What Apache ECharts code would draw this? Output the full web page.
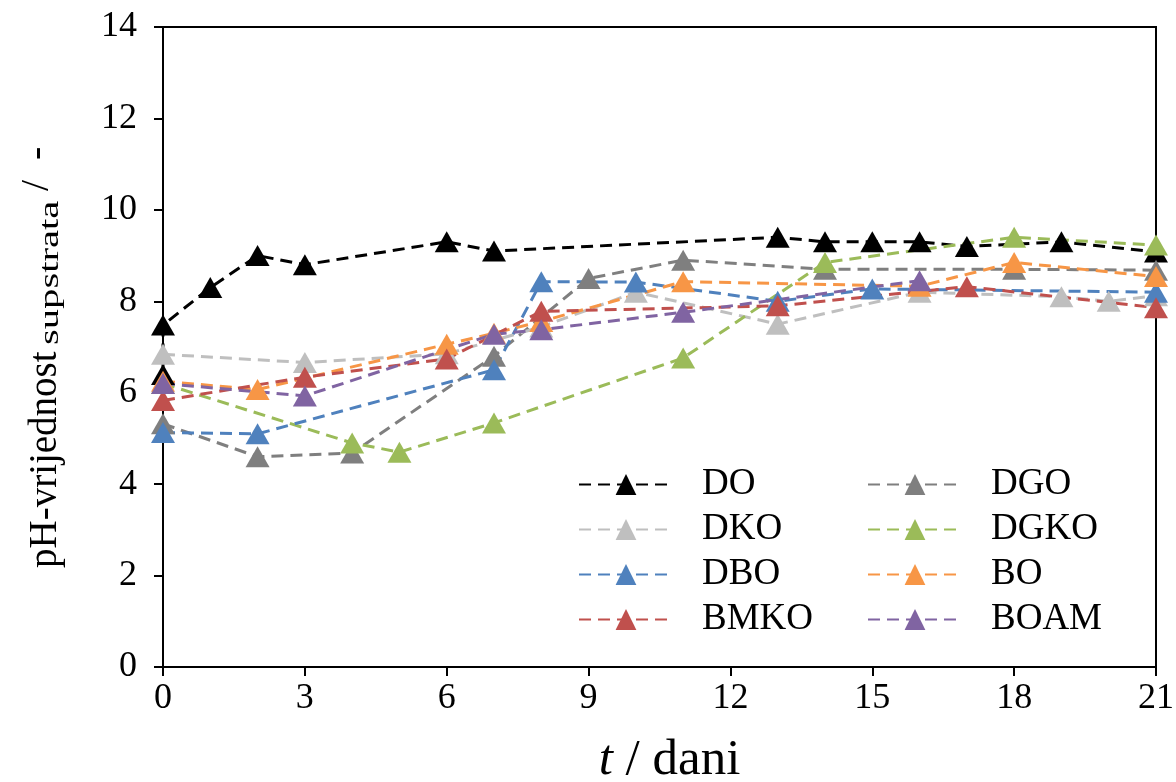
<!DOCTYPE html>
<html>
<head>
<meta charset="utf-8">
<title>pH-vrijednost supstrata</title>
<script src="https://cdn.jsdelivr.net/npm/echarts@6/dist/echarts.min.js"></script>
<style>
  html, body { margin: 0; padding: 0; background: #ffffff; }
  #chart { width: 1176px; height: 782px; }
</style>
</head>
<body>
<div id="chart"></div>
<script>
// Time (days) and substrate pH for each digestion trial
const doT    = [0, 0, 1, 2, 3, 6, 7, 13, 14, 15, 16, 17, 19, 21];
const doPH   = [6.4, 7.48, 8.3, 9.0, 8.8, 9.3, 9.1, 9.4, 9.3, 9.3, 9.3, 9.2, 9.3, 9.08];

const dgoT   = [0, 2, 4, 7, 9, 11, 14, 18, 21];
const dgoPH  = [5.32, 4.6, 4.68, 6.8, 8.5, 8.9, 8.7, 8.7, 8.68];

const dkoT   = [0, 3, 6, 8, 10, 13, 16, 19, 20, 21];
const dkoPH  = [6.84, 6.66, 6.85, 7.44, 8.2, 7.5, 8.2, 8.1, 8.0, 8.12];

const dgkoT  = [0, 4, 5, 7, 11, 14, 18, 21];
const dgkoPH = [6.2, 4.9, 4.7, 5.34, 6.76, 8.85, 9.4, 9.23];

const dboT   = [0, 2, 7, 8, 10, 13, 15, 21];
const dboPH  = [5.13, 5.1, 6.5, 8.43, 8.42, 8.0, 8.27, 8.2];

const boT    = [0, 2, 6, 7, 8, 11, 16, 18, 21];
const boPH   = [6.25, 6.07, 7.06, 7.3, 7.56, 8.43, 8.33, 8.85, 8.54];

const bmkoT  = [0, 3, 6, 8, 13, 17, 21];
const bmkoPH = [5.83, 6.34, 6.74, 7.78, 7.9, 8.32, 7.86];

const boamT  = [0, 3, 7, 8, 11, 16];
const boamPH = [6.2, 5.93, 7.28, 7.38, 7.76, 8.45];

// Axis ticks
const xTicks = [0, 3, 6, 9, 12, 15, 18, 21];
const yTicks = [0, 2, 4, 6, 8, 10, 12, 14];

// Legend columns
const legendLeft  = ['DO', 'DKO', 'DBO', 'BMKO'];
const legendRight = ['DGO', 'DGKO', 'BO', 'BOAM'];

// Series in drawing order (later ones sit on top)
const seriesDefs = [
  { name: 'DO',   t: doT,   ph: doPH,   color: '#000000' },
  { name: 'DGO',  t: dgoT,  ph: dgoPH,  color: '#7f7f7f' },
  { name: 'DKO',  t: dkoT,  ph: dkoPH,  color: '#bfbfbf' },
  { name: 'DGKO', t: dgkoT, ph: dgkoPH, color: '#9bbb59' },
  { name: 'DBO',  t: dboT,  ph: dboPH,  color: '#4f81bd' },
  { name: 'BO',   t: boT,   ph: boPH,   color: '#f79646' },
  { name: 'BMKO', t: bmkoT, ph: bmkoPH, color: '#c0504d' },
  { name: 'BOAM', t: boamT, ph: boamPH, color: '#8064a2' }
];

const serif = '"Liberation Serif", "Times New Roman", serif';

const series = seriesDefs.map(function (s) {
  return {
    name: s.name,
    type: 'line',
    data: s.t.map(function (t, i) { return [t, s.ph[i]]; }),
    symbol: 'triangle',
    symbolSize: [24, 21],
    showAllSymbol: true,
    color: s.color,
    itemStyle: { color: s.color, opacity: 1 },
    lineStyle: { color: s.color, width: 3, type: [12, 7] },
    emphasis: { disabled: true },
    animation: false,
    z: 2
  };
});

function legendColumn(left, names) {
  return {
    left: left, top: 461,
    orient: 'vertical',
    itemWidth: 94, itemHeight: 26, itemGap: 8,
    data: names,
    formatter: function (n) { return '{a|' + n + '}'; },
    textStyle: {
      rich: {
        a: { fontFamily: serif, fontSize: 37, color: '#000000', padding: [0, 0, 0, 24] }
      }
    },
    selectedMode: false
  };
}

// Rotated y-axis title: main text, subscript and unit
const yTitle = [
  { text: 'pH-vrijednost', x: 65, y: 568, size: 39, sx: 1 },
  { text: 'supstrata',     x: 65, y: 345, size: 28, sx: 1.45 },
  { text: '/  -',          x: 57, y: 191, size: 40, sx: 1 }
];

const chart = echarts.init(document.getElementById('chart'), null, { renderer: 'canvas' });

chart.setOption({
  backgroundColor: '#ffffff',
  animation: false,
  grid: {
    left: 163, right: 20, top: 27, bottom: 115,
    outerBoundsMode: 'none',
    containLabel: false,
    show: true, borderColor: '#000000', borderWidth: 2, backgroundColor: 'transparent'
  },
  legend: [legendColumn(573, legendLeft), legendColumn(862, legendRight)],
  graphic: yTitle.map(function (p) {
    return {
      type: 'text',
      x: p.x, y: p.y,
      rotation: Math.PI / 2,
      scaleX: p.sx,
      silent: true,
      style: {
        text: p.text,
        fontFamily: serif,
        fontSize: p.size,
        fill: '#000000',
        align: 'left',
        verticalAlign: 'bottom'
      }
    };
  }),
  xAxis: {
    type: 'value',
    min: 0, max: 21, interval: 3,
    name: '{i|t}{n| / dani}',
    nameLocation: 'middle',
    nameGap: 68,
    nameTextStyle: {
      padding: [0, 0, 0, 20],
      rich: {
        i: { fontFamily: serif, fontSize: 51, fontStyle: 'italic', color: '#000000' },
        n: { fontFamily: serif, fontSize: 51, color: '#000000' }
      }
    },
    axisLine: { show: true, onZero: false, lineStyle: { color: '#000000', width: 2 } },
    axisTick: { show: true, inside: false, length: 9, lineStyle: { color: '#000000', width: 2 } },
    axisLabel: {
      margin: 14, fontFamily: serif, fontSize: 36, color: '#000000',
      customValues: xTicks
    },
    splitLine: { show: false }
  },
  yAxis: {
    type: 'value',
    min: 0, max: 14, interval: 2,
    axisLine: { show: true, lineStyle: { color: '#000000', width: 2 } },
    axisTick: { show: true, inside: false, length: 9, lineStyle: { color: '#000000', width: 2 } },
    axisLabel: {
      margin: 26, fontFamily: serif, fontSize: 36, color: '#000000',
      customValues: yTicks
    },
    splitLine: { show: false }
  },
  series: series
});
</script>
</body>
</html>
